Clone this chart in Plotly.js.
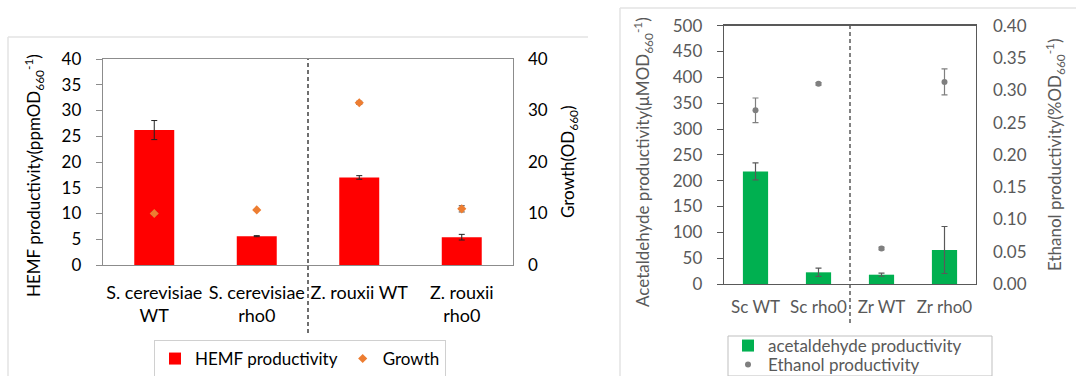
<!DOCTYPE html>
<html>
<head>
<meta charset="utf-8">
<script src="https://cdn.plot.ly/plotly-3.0.1.min.js"></script>
<style>html,body{margin:0;padding:0;background:#fff;}#chart{width:1076px;height:376px;}</style>
</head>
<body>
<div id="chart"></div>
<script>
// ---- Left chart data ----
const leftCategories = ["S. cerevisiae<br>WT", "S. cerevisiae<br>rho0", "Z. rouxii WT", "Z. rouxii<br>rho0"];
const hemfValues = [26.2, 5.6, 17.0, 5.4];
const hemfErrors = [1.85, 0.1, 0.35, 0.55];
const growthValues = [10.0, 10.7, 31.5, 10.9];
const growthErrors = [0.3, 0.1, 0.3, 0.6];

// ---- Right chart data ----
const rightCategories = ["Sc WT", "Sc rho0", "Zr WT", "Zr rho0"];
const acetValues = [218, 22.6, 18, 65.8];
const acetErrors = [16.5, 8, 3, 45.5];
const ethanolValues = [0.269, 0.310, 0.055, 0.313];
const ethanolErrors = [0.019, 0.002, 0.002, 0.02];

const W = 1076, H = 376;
const px = v => v / W;
const py = v => 1 - v / H;
const FONT = "Lato, 'Open Sans', sans-serif";
const dark = "#000000";
const grey = "#595959";

const traces = [
  {
    type: "bar", name: "HEMF productivity", x: leftCategories, y: hemfValues,
    xaxis: "x", yaxis: "y", width: 0.39,
    marker: {color: "#FF0000"},
    error_y: {type: "data", array: hemfErrors, visible: true, color: "#222222", thickness: 1, width: 3},
    legend: "legend"
  },
  {
    type: "scatter", mode: "markers", name: "Growth", x: leftCategories, y: growthValues,
    xaxis: "x", yaxis: "y2",
    marker: {color: "#ED7D31", symbol: "diamond", size: 7},
    error_y: {type: "data", array: growthErrors, visible: true, color: "#444444", thickness: 1, width: 3},
    legend: "legend"
  },
  {
    type: "bar", name: "acetaldehyde productivity", x: rightCategories, y: acetValues,
    xaxis: "x2", yaxis: "y3", width: 0.40,
    marker: {color: "#00B050"},
    error_y: {type: "data", array: acetErrors, visible: true, color: "#595959", thickness: 1.2, width: 3},
    legend: "legend2"
  },
  {
    type: "scatter", mode: "markers", name: "Ethanol productivity", x: rightCategories, y: ethanolValues,
    xaxis: "x2", yaxis: "y4",
    marker: {color: "#7F7F7F", symbol: "circle", size: 6},
    error_y: {type: "data", array: ethanolErrors, visible: true, color: "#7F7F7F", thickness: 1.2, width: 3},
    legend: "legend3"
  }
];

const layout = {
  width: W, height: H,
  margin: {l: 0, r: 0, t: 0, b: 0, pad: 0, autoexpand: false},
  paper_bgcolor: "#ffffff", plot_bgcolor: "rgba(0,0,0,0)",
  font: {family: FONT, size: 15, color: dark},
  showlegend: true,
  xaxis: {
    domain: [px(103), px(513)], anchor: "y", type: "category",
    showline: true, linecolor: "#8c8c8c", linewidth: 1.3, mirror: true,
    ticks: "", showgrid: false, zeroline: false, automargin: false,
    ticklabelstandoff: 11,
    tickfont: {family: FONT, size: 18, color: dark}
  },
  yaxis: {
    domain: [py(265), py(59)], anchor: "x", range: [0, 40], dtick: 5,
    showline: true, linecolor: "#8c8c8c", linewidth: 1.3, mirror: true,
    ticks: "outside", ticklen: 6, tickcolor: "#8c8c8c", tickwidth: 1,
    ticklabelstandoff: 11, automargin: false,
    showgrid: false, zeroline: false,
    tickfont: {family: FONT, size: 17, color: dark}
  },
  yaxis2: {
    overlaying: "y", side: "right", anchor: "x", range: [0, 40], dtick: 10,
    showline: false, ticks: "", showgrid: false, zeroline: false,
    ticklabelstandoff: 14, automargin: false,
    tickfont: {family: FONT, size: 17, color: dark}
  },
  xaxis2: {
    domain: [px(724), px(976)], anchor: "y3", type: "category",
    showline: true, linecolor: "#595959", linewidth: 1.3, mirror: true,
    ticks: "", showgrid: false, zeroline: false, automargin: false,
    ticklabelstandoff: 7,
    tickfont: {family: FONT, size: 17, color: grey}
  },
  yaxis3: {
    domain: [py(284), py(25.7)], anchor: "x2", range: [0, 500], dtick: 50,
    showline: true, linecolor: "#595959", linewidth: 1.3, mirror: true,
    ticks: "outside", ticklen: 6, tickcolor: "#595959", tickwidth: 1,
    ticklabelstandoff: 11, automargin: false,
    showgrid: false, zeroline: false,
    tickfont: {family: FONT, size: 17, color: grey}
  },
  yaxis4: {
    overlaying: "y3", side: "right", anchor: "x2", range: [0, 0.4], dtick: 0.05,
    tickformat: ".2f",
    showline: false, ticks: "", showgrid: false, zeroline: false,
    ticklabelstandoff: 16, automargin: false,
    tickfont: {family: FONT, size: 17, color: grey}
  },
  legend: {
    x: px(154), y: py(340), xanchor: "left", yanchor: "top",
    orientation: "h", bgcolor: "#ffffff", bordercolor: "#d0d0d0", borderwidth: 1,
    font: {family: FONT, size: 17, color: dark}, itemwidth: 30
  },
  legend2: {
    x: px(728), y: py(328), xanchor: "left", yanchor: "top",
    orientation: "v", bgcolor: "rgba(0,0,0,0)", borderwidth: 0,
    font: {family: FONT, size: 17, color: grey}, itemwidth: 30
  },
  legend3: {
    x: px(728), y: py(347), xanchor: "left", yanchor: "top",
    orientation: "v", bgcolor: "rgba(0,0,0,0)", borderwidth: 0,
    font: {family: FONT, size: 17, color: grey}, itemwidth: 30
  },
  shapes: [
    // panel frames
    {type: "line", xref: "paper", yref: "paper", x0: px(8), x1: px(588), y0: py(37), y1: py(37), line: {color: "#e3e3e3", width: 1.5}},
    {type: "line", xref: "paper", yref: "paper", x0: px(8), x1: px(8), y0: py(37), y1: 0, line: {color: "#e3e3e3", width: 1.5}},
    {type: "line", xref: "paper", yref: "paper", x0: px(620), x1: 1, y0: py(8), y1: py(8), line: {color: "#e3e3e3", width: 1.5}},
    {type: "line", xref: "paper", yref: "paper", x0: px(620), x1: px(620), y0: py(8), y1: 0, line: {color: "#e3e3e3", width: 1.5}},
    // right legend frame
    {type: "rect", xref: "paper", yref: "paper", x0: px(728), x1: px(992), y0: py(376), y1: py(336), line: {color: "#bfbfbf", width: 1}, fillcolor: "rgba(0,0,0,0)"},
    // dashed separators between groups
    {type: "line", xref: "x", yref: "paper", x0: 1.5, x1: 1.5, y0: py(333), y1: py(59), line: {color: "#404040", width: 1.5, dash: "4px,3px"}},
    {type: "line", xref: "x2", yref: "paper", x0: 1.5, x1: 1.5, y0: py(323), y1: py(25.7), line: {color: "#595959", width: 1.5, dash: "4px,3px"}}
  ],
  annotations: [
    {text: "HEMF productivity(ppmOD<sub>660</sub><sup>-1</sup>)", xref: "paper", yref: "paper", x: px(34), y: py(176), textangle: -90, showarrow: false, xanchor: "center", yanchor: "middle", font: {family: FONT, size: 17, color: dark}},
    {text: "Growth(OD<sub>660</sub>)", xref: "paper", yref: "paper", x: px(569), y: py(162), textangle: -90, showarrow: false, xanchor: "center", yanchor: "middle", font: {family: FONT, size: 17, color: dark}},
    {text: "Acetaldehyde productivity(μMOD<sub>660</sub><sup>-1</sup>)", xref: "paper", yref: "paper", x: px(643), y: py(162), textangle: -90, showarrow: false, xanchor: "center", yanchor: "middle", font: {family: FONT, size: 17, color: grey}},
    {text: "Ethanol productivity(%OD<sub>660</sub><sup>-1</sup>)", xref: "paper", yref: "paper", x: px(1055), y: py(155), textangle: -90, showarrow: false, xanchor: "center", yanchor: "middle", font: {family: FONT, size: 17, color: grey}}
  ]
};

Plotly.newPlot("chart", traces, layout, {displayModeBar: false, staticPlot: true});
</script>
</body>
</html>
